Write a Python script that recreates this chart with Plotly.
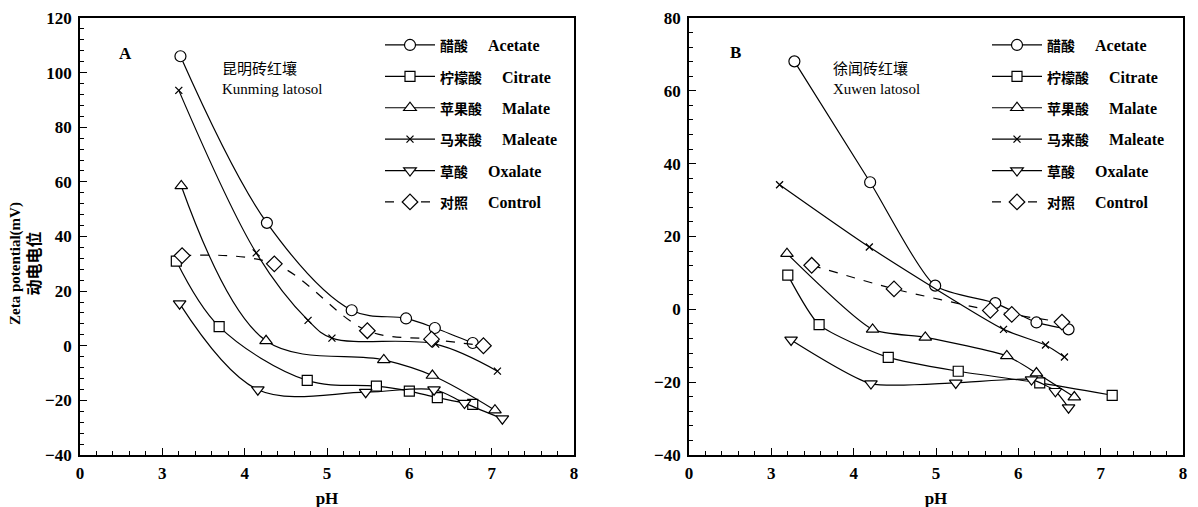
import plotly.graph_objects as go

# ---------------- data ----------------
series_cn = ["醋酸", "柠檬酸", "苹果酸", "马来酸", "草酸", "对照"]
series_en = ["Acetate", "Citrate", "Malate", "Maleate", "Oxalate", "Control"]

# Panel A: Kunming latosol
a_acetate_ph = [3.22, 4.27, 5.30, 5.96, 6.31, 6.77]
a_acetate_z = [106, 45, 13, 10, 6.5, 1]
a_citrate_ph = [3.17, 3.69, 4.76, 5.60, 6.00, 6.34, 6.77]
a_citrate_z = [31, 7, -12.7, -14.8, -16.6, -19, -21.5]
a_malate_ph = [3.23, 4.26, 5.69, 6.28, 7.04]
a_malate_z = [58.5, 1.8, -5.2, -10.9, -23.6]
a_maleate_ph = [3.20, 4.14, 4.77, 5.06, 6.32, 7.07]
a_maleate_z = [93.5, 34, 9.3, 2.8, 0.6, -9.3]
a_oxalate_ph = [3.21, 4.16, 5.47, 6.30, 6.67, 7.13]
a_oxalate_z = [15.4, -16.1, -17, -16.1, -21, -26.7]
a_control_ph = [3.24, 4.36, 5.49, 6.27, 6.90]
a_control_z = [33, 30, 5.5, 2.4, 0]

# Panel B: Xuwen latosol
b_acetate_ph = [3.28, 4.20, 4.99, 5.72, 6.22, 6.61]
b_acetate_z = [68.1, 34.9, 6.5, 1.7, -3.6, -5.5]
b_citrate_ph = [3.20, 3.58, 4.42, 5.27, 6.26, 7.14]
b_citrate_z = [9.4, -4.2, -13.2, -17, -20.2, -23.6]
b_malate_ph = [3.19, 4.23, 4.87, 5.86, 6.22, 6.68]
b_malate_z = [15.3, -5.5, -7.7, -12.8, -17.5, -24.1]
b_maleate_ph = [3.10, 4.19, 5.82, 6.33, 6.56]
b_maleate_z = [34.2, 17.1, -5.5, -9.8, -13.1]
b_oxalate_ph = [3.24, 4.21, 5.24, 6.16, 6.45, 6.61]
b_oxalate_z = [-8.4, -20.4, -20.2, -19.3, -22.5, -27]
b_control_ph = [3.49, 4.49, 5.66, 5.92, 6.53]
b_control_z = [12.1, 5.6, -0.3, -1.4, -3.5]

x_tickvals = [2, 3, 4, 5, 6, 7, 8]
x_ticktext = ["0", "3", "4", "5", "6", "7", "8"]

# ---------------- styling ----------------
SERIF = "Liberation Serif, Times New Roman, Noto Sans CJK SC"
symbols = ["circle", "square", "triangle-up", "x-thin", "triangle-down", "diamond"]
sizes = [11, 10, 11, 7, 11, 12]
dashes = ["solid", "solid", "solid", "solid", "solid", "dash"]

panel_a = [(a_acetate_ph, a_acetate_z), (a_citrate_ph, a_citrate_z), (a_malate_ph, a_malate_z),
           (a_maleate_ph, a_maleate_z), (a_oxalate_ph, a_oxalate_z), (a_control_ph, a_control_z)]
panel_b = [(b_acetate_ph, b_acetate_z), (b_citrate_ph, b_citrate_z), (b_malate_ph, b_malate_z),
           (b_maleate_ph, b_maleate_z), (b_oxalate_ph, b_oxalate_z), (b_control_ph, b_control_z)]

fig = go.Figure()


def legend_label(i):
    return (f'<span style="font-size:14px">{series_cn[i]}</span>'
            f'\u2003\u00a0{series_en[i]}')


def add_panel(data, xa, ya, legend, smoothing):
    for i, (xs, ys) in enumerate(data):
        sym = symbols[i]
        marker = dict(symbol=sym, size=sizes[i], color="white",
                      line=dict(color="black", width=1.2))
        if sym == "x-thin":
            marker = dict(symbol=sym, size=sizes[i], color="black",
                          line=dict(color="black", width=1.3))
        fig.add_trace(go.Scatter(
            x=xs, y=ys, mode="lines+markers", name=legend_label(i),
            line=dict(color="black", width=1.2, dash=dashes[i], shape="spline", smoothing=smoothing),
            marker=marker, xaxis=xa, yaxis=ya, legend=legend,
            legendgroup=f"{legend}{i}", showlegend=True,
        ))


add_panel(panel_a, "x", "y", "legend", 1.0)
add_panel(panel_b, "x2", "y2", "legend2", 0.6)

tickfont = dict(family=SERIF, size=17, color="black", weight="bold")


def xaxis_cfg(domain, anchor):
    return dict(domain=domain, anchor=anchor, range=[2, 8], tickmode="array",
                tickvals=x_tickvals, ticktext=x_ticktext, automargin=False,
                ticklabeloverflow="allow",
                ticks="inside", ticklen=7, tickwidth=1.2, tickcolor="black",
                ticklabelstandoff=2,
                minor=dict(dtick=0.2, tick0=2, ticks="inside", ticklen=4, tickwidth=1, tickcolor="black"),
                showline=True, linecolor="black", linewidth=1.6, mirror=True,
                showgrid=False, zeroline=False, tickfont=tickfont,
                title=dict(text="pH", font=dict(family=SERIF, size=17, color="black", weight="bold"),
                           standoff=10))


def yaxis_cfg(rng, anchor):
    return dict(domain=[0, 1], anchor=anchor, range=rng, dtick=20, tick0=0, automargin=False,
                ticklabeloverflow="allow",
                ticks="inside", ticklen=7, tickwidth=1.2, tickcolor="black",
                ticklabelstandoff=3,
                minor=dict(dtick=4, ticks="inside", ticklen=4, tickwidth=1, tickcolor="black"),
                showline=True, linecolor="black", linewidth=1.6, mirror=True,
                showgrid=False, zeroline=False, tickfont=tickfont)


legend_common = dict(font=dict(family=SERIF, size=16, color="black", weight="bold"),
                     itemwidth=50, tracegroupgap=7.6, traceorder="grouped",
                     bgcolor="rgba(0,0,0,0)", borderwidth=0,
                     xanchor="left", yanchor="top", xref="paper", yref="paper")

fig.update_layout(
    width=1198, height=507,
    margin=dict(l=0, r=0, t=10, b=60),
    paper_bgcolor="white", plot_bgcolor="white",
    font=dict(family=SERIF, color="black"),
    xaxis=xaxis_cfg([72 / 1198, 566 / 1198], "y"),
    yaxis=yaxis_cfg([-40, 120], "x"),
    xaxis2=xaxis_cfg([681 / 1198, 1175 / 1198], "y2"),
    yaxis2=yaxis_cfg([-40, 80], "x2"),
    legend=dict(x=372 / 1198, y=0.977, **legend_common),
    legend2=dict(x=979 / 1198, y=0.977, **legend_common),
)

ann_font = dict(family=SERIF, size=15, color="black")
fig.add_annotation(x=2.55, y=107, xref="x", yref="y", text="<b>A</b>", showarrow=False,
                   font=dict(family=SERIF, size=17, color="black"))
fig.add_annotation(x=3.70, y=98, xref="x", yref="y", xanchor="left",
                   text="昆明砖红壤<br>Kunming latosol", showarrow=False, align="left", font=ann_font)
fig.add_annotation(x=2.56, y=70.4, xref="x2", yref="y2", text="<b>B</b>", showarrow=False,
                   font=dict(family=SERIF, size=17, color="black"))
fig.add_annotation(x=3.72, y=63.5, xref="x2", yref="y2", xanchor="left",
                   text="徐闻砖红壤<br>Xuwen latosol", showarrow=False, align="left", font=ann_font)
fig.add_annotation(x=17 / 1198, y=1 - (256 - 10) / 437, xref="paper", yref="paper",
                   xanchor="center", yanchor="middle",
                   text='Zeta potential(mV)<br><span style="font-size:16px">动电电位</span>',
                   textangle=-90, showarrow=False,
                   font=dict(family=SERIF, size=15, color="black", weight="bold"))

fig.write_html("out.html")
